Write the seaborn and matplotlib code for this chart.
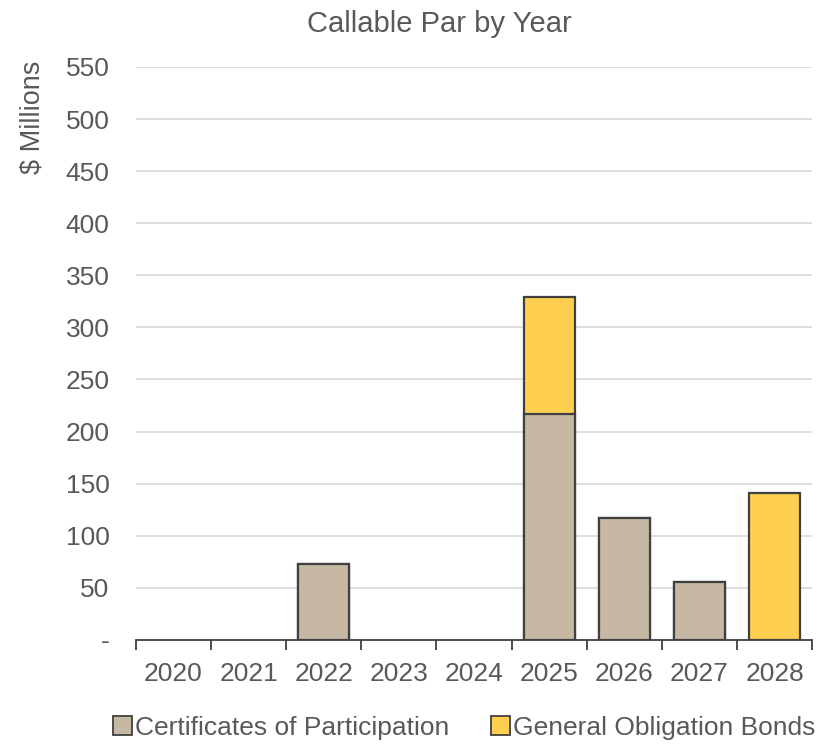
import matplotlib
matplotlib.use("Agg")
import matplotlib.pyplot as plt
from matplotlib.patches import Patch
from matplotlib.ticker import FixedLocator
import seaborn as sns
import pandas as pd
import numpy as np

years = ["2020", "2021", "2022", "2023", "2024", "2025", "2026", "2027", "2028"]
cop = [0, 0, 73, 0, 0, 217, 117, 56, 0]
gob = [0, 0, 0, 0, 0, 112, 0, 0, 141]
y_ticks = [0, 50, 100, 150, 200, 250, 300, 350, 400, 450, 500, 550]
y_tick_labels = ["-"] + [str(v) for v in y_ticks[1:]]

series_names = ["Certificates of Participation", "General Obligation Bonds"]
cop_color = "#C6B8A3"
gob_color = "#FFD050"
edge_color = "#404040"
text_color = "#595959"

sns.set_theme(style="white")
plt.rcParams["font.family"] = ["Liberation Sans", "DejaVu Sans"]

df = pd.DataFrame({"year": years, "cop": cop, "gob": gob})
df["total"] = df["cop"] + df["gob"]
# empty years get no outline drawn at all
plot_df = df.replace(0, np.nan)

fig = plt.figure(figsize=(8.23, 7.44), dpi=100)
ax = fig.add_axes([0.165, 0.140, 0.822, 0.770])

# stacked bars: full stack first, then the lower segment over it
sns.barplot(data=plot_df, x="year", y="total", color=gob_color, saturation=1,
            width=0.68, edgecolor=edge_color, linewidth=1.6, ax=ax, zorder=3,
            order=years)
sns.barplot(data=plot_df, x="year", y="cop", color=cop_color, saturation=1,
            width=0.68, edgecolor=edge_color, linewidth=1.6, ax=ax, zorder=4,
            order=years)

ax.set_ylim(0, 550)
ax.set_xlim(-0.5, len(years) - 0.5)
ax.set_yticks(y_ticks)
ax.set_yticklabels(y_tick_labels)
ax.yaxis.grid(True, color="#D9D9D9", linewidth=1.2, zorder=0)
ax.set_axisbelow(True)
ax.set_xlabel("")
ax.set_ylabel("")

for side in ["top", "right", "left"]:
    ax.spines[side].set_visible(False)
ax.spines["bottom"].set_color(edge_color)
ax.spines["bottom"].set_linewidth(1.3)
ax.spines["bottom"].set_zorder(5)

# tick marks sit between the categories
ax.xaxis.set_minor_locator(FixedLocator([i - 0.5 for i in range(len(years) + 1)]))
ax.tick_params(axis="x", which="minor", length=7, width=1.3, color=edge_color,
               direction="out", bottom=True)
ax.tick_params(axis="x", which="major", length=0, pad=16, labelsize=19,
               labelcolor=text_color)
ax.tick_params(axis="y", length=0, pad=19, labelsize=19, labelcolor=text_color)

fig.text(0.534, 0.968, "Callable Par by Year", ha="center", va="center",
         fontsize=21, color=text_color)
fig.text(0.040, 0.842, "$ Millions", ha="center", va="center", rotation=90,
         fontsize=19.5, color=text_color)

handles = [Patch(facecolor=cop_color, edgecolor=edge_color, linewidth=1.3),
           Patch(facecolor=gob_color, edgecolor=edge_color, linewidth=1.3)]
fig.legend(handles, series_names, loc="center", bbox_to_anchor=(0.564, 0.022),
           ncol=2, frameon=False, fontsize=19, labelcolor=text_color,
           handlelength=0.7, handleheight=0.7, handletextpad=0.12,
           columnspacing=1.6, borderpad=0)

fig.savefig("out.png", dpi=100)
